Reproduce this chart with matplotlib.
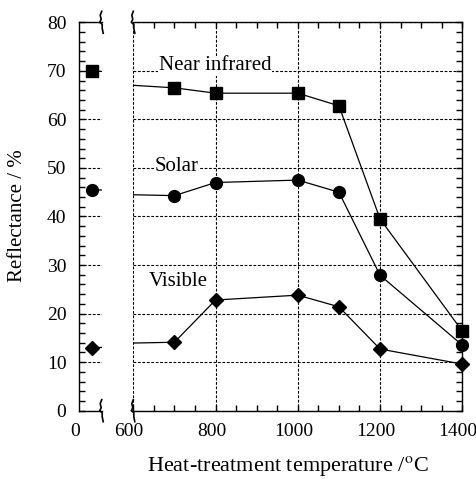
import matplotlib.pyplot as plt
import matplotlib.lines as mlines
from matplotlib.ticker import MultipleLocator, FixedLocator
import matplotlib.transforms as mtransforms

plt.rcParams['font.family'] = ['Liberation Serif', 'DejaVu Serif']
plt.rcParams['mathtext.fontset'] = 'stix'
plt.rcParams['font.size'] = 14

# data (room temperature point is drawn in the small left panel)
temps = [30, 700, 800, 1000, 1100, 1200, 1400]
near_ir = [70.0, 66.5, 65.4, 65.4, 62.8, 39.5, 16.4]
solar = [45.5, 44.3, 47.0, 47.5, 45.0, 27.9, 13.5]
visible = [13.0, 14.1, 22.8, 23.8, 21.4, 12.7, 9.6]

series = [
    (near_ir, 's', 8.5, "Near infrared", 799, 71.0),
    (solar, 'o', 8.5, "Solar", 706, 50.2),
    (visible, 'D', 7.5, "Visible", 710, 26.6),
]

W, H = 477, 479
fig = plt.figure(figsize=(W / 100, H / 100), dpi=100)

y0, y1 = 410.7, 22.3
axl = fig.add_axes([79 / W, (H - y0) / H, 22.7 / W, (y0 - y1) / H])
axr = fig.add_axes([133.3 / W, (H - y0) / H, 329 / W, (y0 - y1) / H], sharey=axl)

grid_kw = dict(color='black', linestyle=(0, (2.5, 1.5)), linewidth=0.8)

for ax, xlim in [(axl, (0, 52)), (axr, (600, 1400))]:
    ax.set_xlim(*xlim)
    ax.set_ylim(0, 80)
    for vals, mk, ms, *_ in series:
        ax.plot(temps, vals, color='black', linewidth=0.9, zorder=3)
        xs = [t for t in temps if xlim[0] <= t <= xlim[1]]
        ys = [v for t, v in zip(temps, vals) if xlim[0] <= t <= xlim[1]]
        ax.plot(xs, ys, linestyle='none', marker=mk, markersize=ms,
                color='black', clip_on=False, zorder=4)
    for sp in ax.spines.values():
        sp.set_linewidth(1.0)

# left panel
axl.spines['right'].set_visible(False)
axl.yaxis.set_major_locator(MultipleLocator(10))
axl.yaxis.set_minor_locator(MultipleLocator(2))
axl.set_xticks([0])
axl.tick_params(axis='x', length=0, pad=9, labelsize=14)
axl.tick_params(axis='y', which='both', direction='in', length=4, pad=9,
                labelsize=14, width=1)
axl.grid(axis='y', **grid_kw)
axl.set_axisbelow(True)

# right panel
axr.spines['left'].set_visible(False)
axr.xaxis.set_major_locator(FixedLocator([600, 800, 1000, 1200, 1400]))
axr.xaxis.set_minor_locator(MultipleLocator(50))
axr.tick_params(axis='x', which='both', direction='in', length=4,
                top=True, pad=9, labelsize=14, width=1)
axr.tick_params(axis='y', which='both', direction='in', length=4,
                left=False, right=True, labelleft=False, width=1)
axr.grid(axis='both', **grid_kw)
axr.set_axisbelow(True)

for lab in axl.get_xticklabels() + axr.get_xticklabels():
    lab.set_transform(lab.get_transform() +
                      mtransforms.ScaledTranslation(-3 / 72, 0, fig.dpi_scale_trans))

for vals, mk, ms, name, tx, ty in series:
    axr.text(tx, ty, name, ha='center', va='center', fontsize=15, zorder=5,
             bbox=dict(facecolor='white', edgecolor='none', pad=0.5))

fig.text(18 / W, 1 - 216 / H, "Reflectance / %", rotation=90,
         ha='center', va='center', fontsize=15)
fig.text(287.5 / W, 1 - 466 / H, r"Heat-treatment temperature /$^{\mathrm{o}}$C",
         ha='center', va='center', fontsize=16)

# axis break marks
squiggle = [(0, -11), (-1.5, -7), (-0.5, -3), (-2, 0), (0.5, 2), (0.5, 6), (1.5, 11)]
for bx in (101.7, 133.3):
    for by in (y1, y0):
        xs = [(bx + dx) / W for dx, dy in squiggle]
        ys = [1 - (by + dy) / H for dx, dy in squiggle]
        fig.add_artist(mlines.Line2D(xs, ys, color='black', linewidth=1.2,
                                     transform=fig.transFigure))

fig.savefig("out.png", dpi=100)
